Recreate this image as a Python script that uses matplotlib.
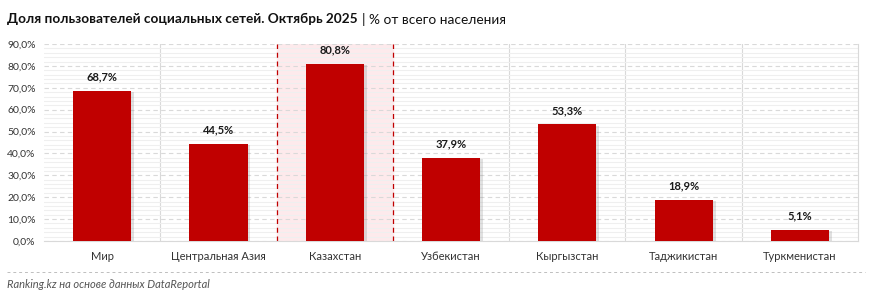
import numpy as np
import matplotlib.pyplot as plt
from matplotlib.ticker import MultipleLocator, FuncFormatter

plt.rcParams['font.family'] = ['Lato', 'DejaVu Sans']

categories = ['Мир', 'Центральная Азия', 'Казахстан', 'Узбекистан',
              'Кыргызстан', 'Таджикистан', 'Туркменистан']
values = [68.7, 44.5, 80.8, 37.9, 53.3, 18.9, 5.1]
highlight = 'Казахстан'

red = '#c00000'
grid_major = '#d9d9d9'
grid_minor = '#efefef'

fig = plt.figure(figsize=(8.72, 2.99), dpi=100)
ax = fig.add_axes([44 / 872, 1 - 241 / 299, (858 - 44) / 872, (241 - 44) / 299])

x = np.arange(len(categories))

# highlighted column
hi = categories.index(highlight)
ax.axvspan(hi - 0.5, hi + 0.5, color='#fdeaec', zorder=0)

# grid
ax.yaxis.set_major_locator(MultipleLocator(10))
ax.yaxis.set_minor_locator(MultipleLocator(2))
ax.grid(axis='y', which='major', color=grid_major, linestyle=(0, (4, 3)), linewidth=0.8, zorder=1)
ax.grid(axis='y', which='minor', color=grid_minor, linestyle='-', linewidth=0.8, zorder=1)
for k in range(len(categories) - 1):
    if k + 0.5 in (hi - 0.5, hi + 0.5):
        continue
    ax.axvline(k + 0.5, color=grid_major, linewidth=0.8, zorder=1)
ax.axvline(hi - 0.5, color=red, linestyle=(0, (4, 3)), linewidth=0.9, zorder=2)
ax.axvline(hi + 0.5, color=red, linestyle=(0, (4, 3)), linewidth=0.9, zorder=2)

# bars with soft shadow
ax.bar(x + 0.025, np.array(values) - 0.6, width=0.5, bottom=0, color='#888888', alpha=0.25, zorder=2)
bars = ax.bar(x, values, width=0.5, color=red, zorder=3)

for xi, v in zip(x, values):
    ax.annotate(f'{v:.1f}%'.replace('.', ','), (xi, v), xytext=(0, 6), textcoords='offset points',
                ha='center', va='bottom', fontsize=8, fontweight='bold', color='#1a1a1a')

ax.set_xlim(-0.5, len(categories) - 0.5)
ax.set_ylim(0, 90)
ax.set_xticks(x)
ax.set_xticklabels(categories, fontsize=8, color='#333333')
ax.yaxis.set_major_formatter(FuncFormatter(lambda v, p: f'{v:.1f}%'.replace('.', ',')))
ax.tick_params(axis='y', labelsize=7.5, colors='#333333', length=0, pad=6)
ax.tick_params(axis='y', which='minor', length=0)
ax.tick_params(axis='x', length=0, pad=7)

for side in ['top', 'left']:
    ax.spines[side].set_visible(False)
ax.spines['right'].set_color(grid_major)
ax.spines['bottom'].set_color(grid_major)
ax.spines['right'].set_linewidth(0.8)
ax.spines['bottom'].set_linewidth(0.8)

# title
t1 = fig.text(7 / 872, 1 - 19 / 299, 'Доля пользователей социальных сетей. Октябрь 2025',
              fontsize=9.8, fontweight='bold', va='center', ha='left', color='#111111')
fig.canvas.draw()
bb = t1.get_window_extent()
fig.text(bb.x1 / 872 + 0.005, 1 - 19 / 299, '| % от всего населения',
         fontsize=9.8, va='center', ha='left', color='#111111')

# footer
fig.add_artist(plt.Line2D([7 / 872, 865 / 872], [1 - 272 / 299] * 2, color='#bfbfbf',
                          linestyle=(0, (3, 3)), linewidth=0.7))
fig.text(7 / 872, 1 - 284 / 299, 'Ranking.kz на основе данных DataReportal',
         fontsize=8, style='italic', color='#555555', va='center', ha='left')

fig.savefig('out.png', dpi=100)
